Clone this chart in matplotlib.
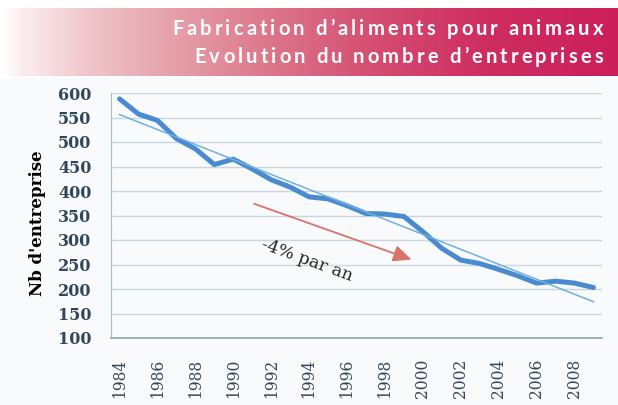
import numpy as np
import matplotlib
matplotlib.use('Agg')
import matplotlib.pyplot as plt
from matplotlib.colors import LinearSegmentedColormap
from matplotlib.font_manager import FontProperties
from matplotlib.patches import Rectangle

years = list(range(1984, 2010))
entreprises = [588, 557, 544, 507, 486, 454, 465, 445, 423, 408, 388, 384, 370,
               354, 353, 348, 317, 283, 259, 252, 240, 227, 212, 216, 212, 203]
trend_years = [1984, 2009]
trend_values = [556, 174]
tick_years = list(range(1984, 2009, 2))
title_lines = ['Fabrication d’aliments pour animaux',
               'Evolution du nombre d’entreprises']

W, H = 618, 405
fig = plt.figure(figsize=(W / 100, H / 100), dpi=100)
fig.patch.set_facecolor('white')
fig.patches.append(Rectangle((0, 0), 1, 1 - 78 / H, transform=fig.transFigure,
                             color='#f9fafc', zorder=-10))

# header band with gradient
hdr = fig.add_axes([0, 1 - 76 / H, 1, 68 / H])
cmap = LinearSegmentedColormap.from_list('band', [
    (0.0, '#ffffff'), (0.03, '#fbeef0'), (0.15, '#efc2c8'), (0.28, '#e5a0aa'),
    (0.45, '#db7388'), (0.62, '#d44a70'), (0.78, '#cf2e62'), (1.0, '#cc1f5a')])
hdr.imshow(np.linspace(0, 1, 300)[None, :], cmap=cmap, aspect='auto', extent=[0, 1, 0, 1])
hdr.set_axis_off()


def tracked_text(s, x_right, y_base, size, spacing):
    # letter-spaced text, right aligned, coordinates in pixels from top-left
    r = fig.canvas.get_renderer()
    prop = FontProperties(family='Lato', size=size, weight='bold')
    base = r.get_text_width_height_descent('xx', prop, ismath=False)[0]
    widths = [r.get_text_width_height_descent('x' + c + 'x', prop, ismath=False)[0] - base
              for c in s]
    x = x_right - sum(widths) - spacing * (len(s) - 1)
    for c, w in zip(s, widths):
        fig.text(x / W, 1 - y_base / H, c, fontproperties=prop, color='white',
                 ha='left', va='baseline')
        x += w + spacing


tracked_text(title_lines[0], 603, 35, 14.5, 3.1)
tracked_text(title_lines[1], 603, 63, 14.5, 3.1)

# main chart
ax = fig.add_axes([111 / W, 1 - 338 / H, 491 / W, 245 / H])
ax.set_facecolor('none')
ax.plot(years, entreprises, color='#4a8bd0', lw=3.6, solid_joinstyle='round',
        solid_capstyle='round', zorder=3)
ax.plot(trend_years, trend_values, color='#6eb0e4', lw=1.1, zorder=4)

ax.annotate('', xy=(1999.4, 260), xytext=(1991.1, 374),
            arrowprops=dict(arrowstyle='-|>,head_length=1.1,head_width=0.5',
                            color='#d9736c', lw=1.3, shrinkA=0, shrinkB=0))
ax.text(1993.9, 258, '-4% par an', rotation=-20, rotation_mode='anchor',
        ha='center', va='center', fontfamily='DejaVu Serif', fontsize=12.5,
        color='#222222')

ax.set_xlim(1983.55, 2009.45)
ax.set_ylim(100, 600)
ax.set_yticks(range(100, 601, 50))
ax.set_xticks(tick_years)
ax.set_xticklabels([str(y) for y in tick_years], rotation=90,
                   fontfamily='DejaVu Serif', fontsize=11.2, color='#33475a')
for lab in ax.get_yticklabels():
    lab.set_fontfamily('DejaVu Serif')
    lab.set_fontweight('bold')
    lab.set_fontsize(11.5)
    lab.set_color('#33475a')
ax.tick_params(axis='y', length=0, pad=14)
ax.tick_params(axis='x', length=0, pad=15)
ax.yaxis.grid(True, color='#c9d6de', lw=1)
ax.set_axisbelow(True)
for side in ['top', 'right']:
    ax.spines[side].set_visible(False)
ax.spines['left'].set_color('#a9bcc8')
ax.spines['bottom'].set_color('#8ea6b5')
ax.spines['bottom'].set_linewidth(1.2)

ax.set_ylabel("Nb d'entreprise", fontfamily='DejaVu Serif', fontweight='bold',
              fontsize=12, color='black')
ax.yaxis.set_label_coords(-0.133, 0.47)

fig.savefig('out.png', dpi=100)
